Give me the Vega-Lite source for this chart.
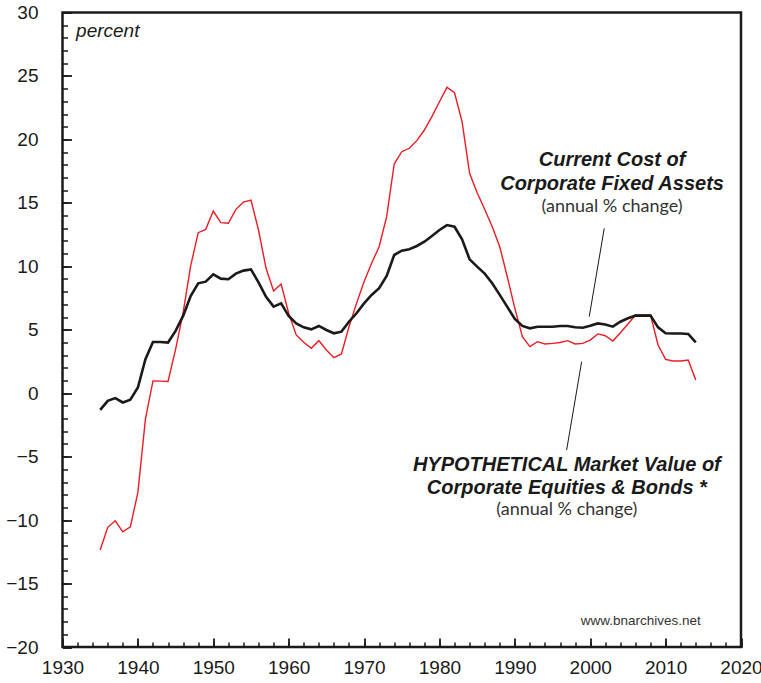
{
  "$schema": "https://vega.github.io/schema/vega-lite/v6.json",
  "width": 678.5,
  "height": 634.5,
  "autosize": "none",
  "padding": {"left": 62.5, "top": 12.5, "right": 20, "bottom": 36},
  "background": "white",
  "config": {
    "view": {"stroke": "#1a1a1a", "strokeWidth": 2.5},
    "font": "Liberation Sans",
    "axis": {"grid": false, "title": null, "ticks": true, "domain": false, "zindex": 1, "tickColor": "#1a1a1a", "tickOpacity": 1, "labelColor": "#1a1a1a"}
  },
  "datasets": {
    "series": [
      {"year": 1935, "cost": -1.31, "market": -12.36},
      {"year": 1936, "cost": -0.6, "market": -10.57},
      {"year": 1937, "cost": -0.39, "market": -10.05},
      {"year": 1938, "cost": -0.73, "market": -10.92},
      {"year": 1939, "cost": -0.52, "market": -10.53},
      {"year": 1940, "cost": 0.45, "market": -7.82},
      {"year": 1941, "cost": 2.68, "market": -2.05},
      {"year": 1942, "cost": 4.04, "market": 0.97},
      {"year": 1943, "cost": 4.04, "market": 0.95},
      {"year": 1944, "cost": 3.99, "market": 0.92},
      {"year": 1945, "cost": 4.91, "market": 3.46},
      {"year": 1946, "cost": 6.09, "market": 6.35},
      {"year": 1947, "cost": 7.66, "market": 10.03},
      {"year": 1948, "cost": 8.66, "market": 12.65},
      {"year": 1949, "cost": 8.79, "market": 12.91},
      {"year": 1950, "cost": 9.37, "market": 14.35},
      {"year": 1951, "cost": 9.03, "market": 13.44},
      {"year": 1952, "cost": 8.98, "market": 13.39},
      {"year": 1953, "cost": 9.42, "market": 14.49},
      {"year": 1954, "cost": 9.66, "market": 15.06},
      {"year": 1955, "cost": 9.76, "market": 15.22},
      {"year": 1956, "cost": 8.74, "market": 12.86},
      {"year": 1957, "cost": 7.6, "market": 9.84},
      {"year": 1958, "cost": 6.82, "market": 8.05},
      {"year": 1959, "cost": 7.08, "market": 8.6},
      {"year": 1960, "cost": 6.08, "market": 6.3},
      {"year": 1961, "cost": 5.5, "market": 4.59},
      {"year": 1962, "cost": 5.19, "market": 4.01},
      {"year": 1963, "cost": 5.03, "market": 3.54},
      {"year": 1964, "cost": 5.3, "market": 4.14},
      {"year": 1965, "cost": 4.98, "market": 3.4},
      {"year": 1966, "cost": 4.72, "market": 2.8},
      {"year": 1967, "cost": 4.85, "market": 3.09},
      {"year": 1968, "cost": 5.63, "market": 5.24},
      {"year": 1969, "cost": 6.3, "market": 7.08},
      {"year": 1970, "cost": 7.08, "market": 8.79},
      {"year": 1971, "cost": 7.74, "market": 10.24},
      {"year": 1972, "cost": 8.27, "market": 11.54},
      {"year": 1973, "cost": 9.25, "market": 13.91},
      {"year": 1974, "cost": 10.89, "market": 18.06},
      {"year": 1975, "cost": 11.23, "market": 19.03},
      {"year": 1976, "cost": 11.34, "market": 19.3},
      {"year": 1977, "cost": 11.6, "market": 19.9},
      {"year": 1978, "cost": 11.94, "market": 20.74},
      {"year": 1979, "cost": 12.39, "market": 21.79},
      {"year": 1980, "cost": 12.86, "market": 22.97},
      {"year": 1981, "cost": 13.25, "market": 24.1},
      {"year": 1982, "cost": 13.12, "market": 23.68},
      {"year": 1983, "cost": 12.13, "market": 21.4},
      {"year": 1984, "cost": 10.55, "market": 17.33},
      {"year": 1985, "cost": 9.97, "market": 15.8},
      {"year": 1986, "cost": 9.42, "market": 14.5},
      {"year": 1987, "cost": 8.66, "market": 13.12},
      {"year": 1988, "cost": 7.75, "market": 11.54},
      {"year": 1989, "cost": 6.8, "market": 9.18},
      {"year": 1990, "cost": 5.85, "market": 6.69},
      {"year": 1991, "cost": 5.3, "market": 4.45},
      {"year": 1992, "cost": 5.11, "market": 3.67},
      {"year": 1993, "cost": 5.24, "market": 4.06},
      {"year": 1994, "cost": 5.24, "market": 3.88},
      {"year": 1995, "cost": 5.24, "market": 3.93},
      {"year": 1996, "cost": 5.3, "market": 4.0},
      {"year": 1997, "cost": 5.3, "market": 4.14},
      {"year": 1998, "cost": 5.2, "market": 3.88},
      {"year": 1999, "cost": 5.16, "market": 3.93},
      {"year": 2000, "cost": 5.32, "market": 4.19},
      {"year": 2001, "cost": 5.5, "market": 4.67},
      {"year": 2002, "cost": 5.42, "market": 4.53},
      {"year": 2003, "cost": 5.24, "market": 4.11},
      {"year": 2004, "cost": 5.63, "market": 4.77},
      {"year": 2005, "cost": 5.9, "market": 5.45},
      {"year": 2006, "cost": 6.11, "market": 6.16},
      {"year": 2007, "cost": 6.11, "market": 6.16},
      {"year": 2008, "cost": 6.11, "market": 6.16},
      {"year": 2009, "cost": 5.19, "market": 3.8},
      {"year": 2010, "cost": 4.72, "market": 2.67},
      {"year": 2011, "cost": 4.7, "market": 2.54},
      {"year": 2012, "cost": 4.7, "market": 2.54},
      {"year": 2013, "cost": 4.67, "market": 2.62},
      {"year": 2014, "cost": 4.0, "market": 1.04}
    ]
  },
  "layer": [
    {
      "data": {"name": "series"},
      "mark": {"type": "line", "opacity": 0},
      "encoding": {
        "x": {"field": "year", "type": "quantitative", "scale": {"domain": [1930, 2020], "nice": false, "zero": false},
          "axis": {"orient": "bottom", "values": [1930,1932,1934,1936,1938,1940,1942,1944,1946,1948,1950,1952,1954,1956,1958,1960,1962,1964,1966,1968,1970,1972,1974,1976,1978,1980,1982,1984,1986,1988,1990,1992,1994,1996,1998,2000,2002,2004,2006,2008,2010,2012,2014,2016,2018,2020], "labels": false, "offset": -5, "tickSize": 5, "tickWidth": 1.5}},
        "y": {"field": "cost", "type": "quantitative", "scale": {"domain": [-20, 30], "nice": false, "zero": false},
          "axis": {"orient": "left", "values": [-20,-19,-18,-17,-16,-15,-14,-13,-12,-11,-10,-9,-8,-7,-6,-5,-4,-3,-2,-1,0,1,2,3,4,5,6,7,8,9,10,11,12,13,14,15,16,17,18,19,20,21,22,23,24,25,26,27,28,29,30], "labels": false, "offset": -5, "tickSize": 5, "tickWidth": 1.5}}
      }
    },
    {
      "data": {"name": "series"},
      "mark": {"type": "line", "color": "#ed1c24", "strokeWidth": 1.4},
      "encoding": {
        "x": {"field": "year", "type": "quantitative", "scale": {"domain": [1930, 2020], "nice": false, "zero": false},
          "axis": {"orient": "bottom", "values": [1930,1940,1950,1960,1970,1980,1990,2000,2010,2020], "format": "d", "offset": -9, "tickSize": 9, "tickWidth": 1.8, "labelPadding": 11, "labelFontSize": 19, "labelBaseline": "top", "labelFlush": false, "labelOverlap": false}},
        "y": {"field": "market", "type": "quantitative", "scale": {"domain": [-20, 30], "nice": false, "zero": false},
          "axis": {"orient": "left", "values": [-20,-15,-10,-5,0,5,10,15,20,25,30], "offset": -9, "tickSize": 9, "tickWidth": 1.8, "labelPadding": 24.5, "labelFontSize": 19, "labelFlush": false, "labelOverlap": false}}
      }
    },
    {
      "data": {"name": "series"},
      "mark": {"type": "line", "color": "#1a1a1a", "strokeWidth": 2.6},
      "encoding": {
        "x": {"field": "year", "type": "quantitative", "axis": null},
        "y": {"field": "cost", "type": "quantitative", "axis": null}
      }
    },
    {
      "data": {"values": [
        {"year": 2001.86, "value": 12.99, "year2": 1999.87, "value2": 6.03},
        {"year": 1998.86, "value": 2.48, "year2": 1996.87, "value2": -4.48}
      ]},
      "mark": {"type": "rule", "color": "#1a1a1a", "strokeWidth": 1},
      "encoding": {
        "x": {"field": "year", "type": "quantitative", "axis": null},
        "y": {"field": "value", "type": "quantitative", "axis": null},
        "x2": {"field": "year2"},
        "y2": {"field": "value2"}
      }
    },
    {
      "data": {"values": [
        {"year": 2002.9, "value": 17.9, "label": "Current Cost of"},
        {"year": 2002.9, "value": 16.01, "label": "Corporate Fixed Assets"},
        {"year": 1996.9, "value": -6.11, "label": "HYPOTHETICAL Market Value of"},
        {"year": 1996.9, "value": -7.94, "label": "Corporate Equities & Bonds *"}
      ]},
      "mark": {"type": "text", "font": "Liberation Sans", "fontSize": 20, "fontWeight": "bold", "fontStyle": "italic", "align": "center", "baseline": "alphabetic", "color": "#1a1a1a"},
      "encoding": {
        "x": {"field": "year", "type": "quantitative", "axis": null},
        "y": {"field": "value", "type": "quantitative", "axis": null},
        "text": {"field": "label"}
      }
    },
    {
      "data": {"values": [
        {"year": 2002.9, "value": 14.28, "label": "(annual % change)"},
        {"year": 1996.9, "value": -9.6, "label": "(annual % change)"}
      ]},
      "mark": {"type": "text", "font": "Lato", "fontSize": 18, "align": "center", "baseline": "alphabetic", "color": "#333333"},
      "encoding": {
        "x": {"field": "year", "type": "quantitative", "axis": null},
        "y": {"field": "value", "type": "quantitative", "axis": null},
        "text": {"field": "label"}
      }
    },
    {
      "data": {"values": [{"year": 1931.8, "value": 28.03, "label": "percent"}]},
      "mark": {"type": "text", "font": "Liberation Sans", "fontSize": 19, "fontStyle": "italic", "align": "left", "baseline": "alphabetic", "color": "#1a1a1a"},
      "encoding": {
        "x": {"field": "year", "type": "quantitative", "axis": null},
        "y": {"field": "value", "type": "quantitative", "axis": null},
        "text": {"field": "label"}
      }
    },
    {
      "data": {"values": [{"year": 2014.66, "value": -18.27, "label": "www.bnarchives.net"}]},
      "mark": {"type": "text", "font": "Liberation Sans", "fontSize": 13.5, "align": "right", "baseline": "alphabetic", "color": "#333333"},
      "encoding": {
        "x": {"field": "year", "type": "quantitative", "axis": null},
        "y": {"field": "value", "type": "quantitative", "axis": null},
        "text": {"field": "label"}
      }
    }
  ],
  "resolve": {"axis": {"x": "independent", "y": "independent"}}
}
